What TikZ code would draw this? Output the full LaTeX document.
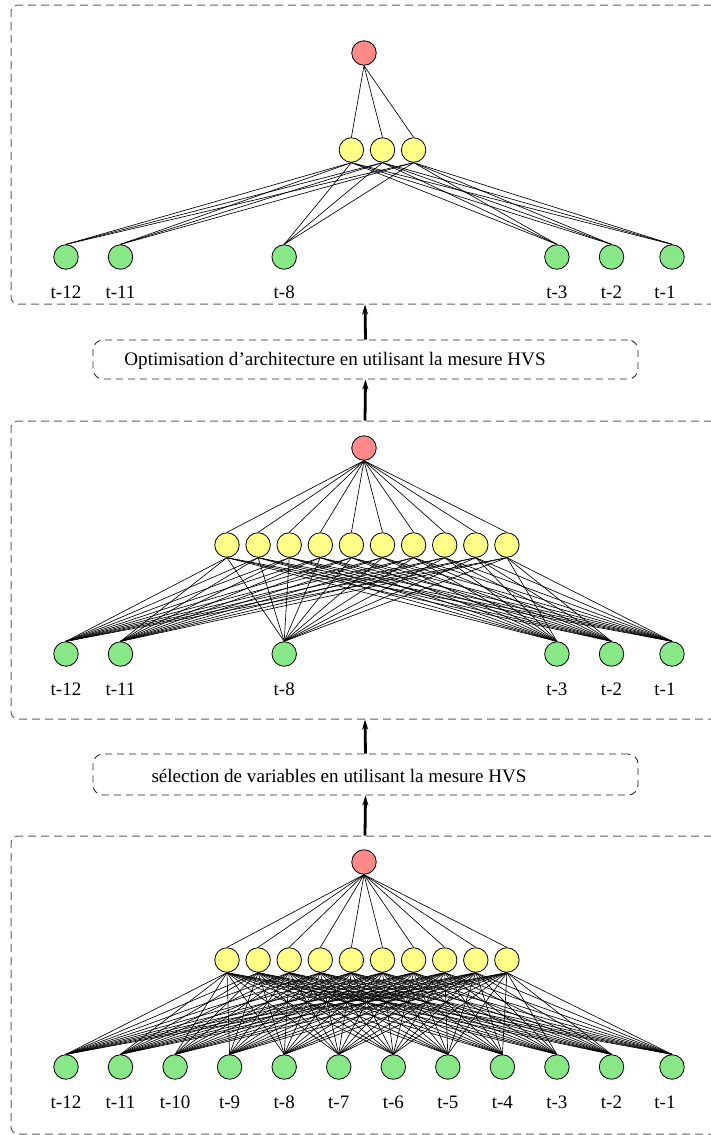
\documentclass[tikz,border=0pt]{standalone}
\usepackage{fontspec}
\setmainfont{Liberation Serif}
\usetikzlibrary{arrows.meta}
\definecolor{outred}{RGB}{255,136,136}
\definecolor{hidyellow}{RGB}{255,255,136}
\definecolor{ingreen}{RGB}{136,232,136}
\definecolor{panelgray}{RGB}{95,95,95}
\begin{document}
\begin{tikzpicture}[x=1pt,y=-1pt,
  neuron/.style={circle,draw=black,line width=0.8pt,minimum size=24.5pt,inner sep=0pt},
  outnode/.style={neuron,fill=outred},
  hidnode/.style={neuron,fill=hidyellow},
  innode/.style={neuron,fill=ingreen},
  wire/.style={line width=0.65pt},
  lab/.style={anchor=base,inner sep=0pt,font=\fontsize{19}{22}\selectfont},
  panel/.style={draw=panelgray,line width=1pt,dash pattern=on 8pt off 5pt,rounded corners=7pt,inner sep=0pt},
  stepnote/.style={draw=black!85,line width=0.9pt,dash pattern=on 7pt off 5pt,rounded corners=10pt,
    minimum width=545pt,inner sep=0pt},
  caption/.style={inner sep=0pt,font=\fontsize{19.1}{22}\selectfont},
  upflow/.style={line width=2.8pt,-{Stealth[length=10pt,width=6pt]}}]
\useasboundingbox (0,0) rectangle (711,1135);

% ---- frames and step captions ----
\node[panel,minimum width=708pt,minimum height=299pt] (P1) at (365,154.5) {};
\node[panel,minimum width=708pt,minimum height=298pt] (P2) at (365,570) {};
\node[panel,minimum width=708pt,minimum height=298pt] (P3) at (365,985) {};
\node[stepnote,minimum height=39pt] (T1) at (365.5,359.5) {};
\node[stepnote,minimum height=41pt] (T2) at (365.5,774.5) {};
\node[caption] (c1) at (335,361) {Optimisation d’architecture en utilisant la mesure HVS};
\node[caption] (c2) at (339,776) {sélection de variables en utilisant la mesure HVS};

\draw[upflow] (P3.north) -- (T2.south);
\draw[upflow] (T2.north) -- (P2.south);
\draw[upflow] (P2.north) -- (T1.south);
\draw[upflow] (T1.north) -- (P1.south);

% ---- bottom network: all 12 lags, 10 hidden units ----
\node[outnode] (o3) at (364,862) {};
\foreach \i in {0,...,9}
  \node[hidnode] (h3-\i) at ({227+31.1*\i},960) {};
\foreach \k/\x/\lx in {12/66/66,11/120.5/120.5,10/175.1/175.1,9/229.6/229.6,8/284.2/284.2,
    7/338.7/338.7,6/393.3/393.3,5/447.8/447.8,4/502.4/502.4,3/556.9/556.9,2/611.5/611.5,1/672/665} {
  \node[innode] (i3-\k) at (\x,1067) {};
  \node[lab] (l3-\k) at (\lx,1108) {t-\k};
}
\foreach \i in {0,...,9} {
  \draw[wire] (o3.south) -- (h3-\i.north);
  \foreach \k in {1,...,12}
    \draw[wire] (h3-\i.south) -- (i3-\k.north);
}

% ---- middle network: selected lags, 10 hidden units ----
\node[outnode] (o2) at (364,448) {};
\foreach \i in {0,...,9}
  \node[hidnode] (h2-\i) at ({227+31.1*\i},545) {};
\foreach \k/\x/\lx in {12/66/66,11/120.5/120.5,8/284.2/284.2,3/556.9/556.9,2/611.5/611.5,1/672/665} {
  \node[innode] (i2-\k) at (\x,654) {};
  \node[lab] (l2-\k) at (\lx,695) {t-\k};
}
\foreach \i in {0,...,9} {
  \draw[wire] (o2.south) -- (h2-\i.north);
  \foreach \k in {12,11,8,3,2,1}
    \draw[wire] (h2-\i.south) -- (i2-\k.north);
}

% ---- top network: selected lags, 3 hidden units ----
\node[outnode] (o1) at (364,53) {};
\foreach \i in {4,5,6}
  \node[hidnode] (h1-\i) at ({227+31.1*\i},150) {};
\foreach \k/\x/\lx in {12/66/66,11/120.5/120.5,8/284.2/284.2,3/556.9/556.9,2/611.5/611.5,1/672/665} {
  \node[innode] (i1-\k) at (\x,257) {};
  \node[lab] (l1-\k) at (\lx,298) {t-\k};
}
\foreach \i in {4,5,6} {
  \draw[wire] (o1.south) -- (h1-\i.north);
  \foreach \k in {12,11,8,3,2,1}
    \draw[wire] (h1-\i.south) -- (i1-\k.north);
}
\end{tikzpicture}
\end{document}
